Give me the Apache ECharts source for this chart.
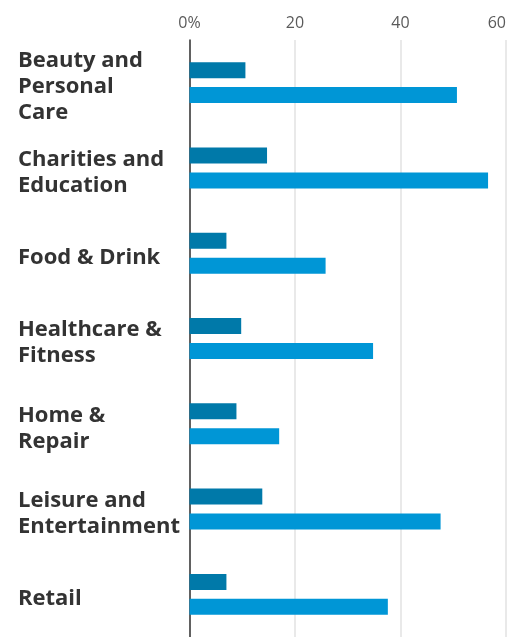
<!DOCTYPE html>
<html>
<head>
<meta charset="utf-8">
<script src="https://cdn.jsdelivr.net/npm/echarts@6/dist/echarts.min.js"></script>
<style>
  html, body { margin: 0; padding: 0; background: #fff; }
  #chart { width: 509px; height: 637px; }
</style>
</head>
<body>
<div id="chart"></div>
<script>
// Sectors, top to bottom
const categories = [
  'Beauty and\nPersonal\nCare',
  'Charities and\nEducation',
  'Food & Drink',
  'Healthcare &\nFitness',
  'Home &\nRepair',
  'Leisure and\nEntertainment',
  'Retail'
];
// Shares in percent, two series per sector
const seriesA = [10.6, 14.7, 7.0, 9.8, 8.9, 13.8, 7.0];
const seriesB = [50.7, 56.6, 25.8, 34.8, 17.0, 47.6, 37.6];
const tickValues = [0, 20, 40, 60];

const chart = echarts.init(document.getElementById('chart'), null, { renderer: 'canvas' });

chart.setOption({
  animation: false,
  backgroundColor: '#fff',
  grid: { left: 189.5, right: 1, top: 40, bottom: -5, containLabel: false },
  xAxis: {
    type: 'value',
    position: 'top',
    min: tickValues[0],
    max: tickValues[tickValues.length - 1],
    interval: tickValues[1] - tickValues[0],
    axisLine: { show: false },
    axisTick: { show: false },
    splitLine: { show: true, lineStyle: { color: '#e2e2e2', width: 1.5 } },
    axisLabel: {
      margin: 9,
      color: '#5a5a5a',
      fontFamily: 'Open Sans',
      fontSize: 16,
      alignMaxLabel: 'right',
      formatter: v => (v === 0 ? '0%' : String(v))
    }
  },
  yAxis: {
    type: 'category',
    inverse: true,
    data: categories,
    axisLine: { show: true, lineStyle: { color: '#333', width: 1.5 } },
    axisTick: { show: false },
    splitLine: { show: false },
    axisLabel: {
      align: 'left',
      margin: 171.5,
      color: '#333',
      fontFamily: 'Open Sans',
      fontWeight: 'bold',
      fontSize: 22,
      lineHeight: 26,
      // a short spacer line on top nudges each block slightly downward
      formatter: v => '{s| }\n' + v,
      rich: { s: { fontSize: 4, lineHeight: 9 } }
    }
  },
  series: [
    {
      type: 'bar',
      data: seriesA,
      barWidth: 16,
      barGap: '56%',
      itemStyle: { color: '#0079a9' }
    },
    {
      type: 'bar',
      data: seriesB,
      barWidth: 16,
      itemStyle: { color: '#0096d6' }
    }
  ]
});
</script>
</body>
</html>
